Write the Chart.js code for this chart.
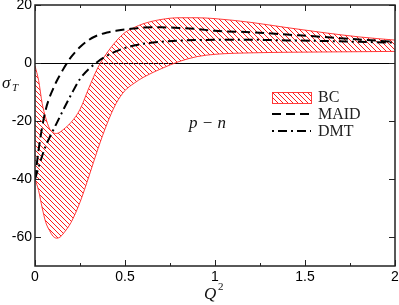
<!DOCTYPE html>
<html>
<head>
<meta charset="utf-8">
<script src="https://cdn.jsdelivr.net/npm/chart.js@4"></script>
<style>html,body{margin:0;padding:0;background:#fff}</style>
</head>
<body>
<canvas id="sigmaChart" width="399" height="305"></canvas>
<script>
// --- data --- //
const qSq = [0, 0.02, 0.04, 0.06, 0.08, 0.1, 0.12, 0.14, 0.16, 0.2, 0.25, 0.3, 0.35, 0.4, 0.45, 0.5, 0.55, 0.6, 0.7, 0.8, 0.9, 1.0, 1.2, 1.4, 1.6, 1.8, 2.0];
const bcUpper = [-1, -6, -14, -19, -22.5, -24, -24.3, -23.8, -22.8, -20.5, -16, -8.5, -1.5, 3.5, 7.5, 10.5, 12.2, 13.5, 15, 15.6, 15.6, 15.3, 14, 12.2, 10.5, 9, 7.9];
const bcLower = [-40, -44, -50, -55, -57.7, -59.7, -60.4, -60, -58.6, -55, -48, -39, -29.5, -21, -14, -9.5, -7, -5, -2, 0.5, 2.2, 3, 3.5, 3.7, 3.8, 3.9, 4];
const maid = [-40, -30, -22, -16, -12, -9, -6.3, -4, -1.8, 2, 5.5, 8, 9.6, 10.5, 11.1, 11.6, 11.9, 12.2, 12.3, 12.1, 11.7, 11.1, 10.6, 9.8, 9.0, 8.1, 7.3];
const dmt = [-40, -36, -32, -28.5, -25.8, -23.3, -20.8, -18.3, -15.8, -11, -5.5, -2, 0.5, 2.5, 4, 5.2, 6, 6.6, 7.3, 7.7, 7.9, 8, 8, 7.8, 7.6, 7.3, 7.0];

const xTicks = [0, 0.5, 1, 1.5, 2];
const xTickLabels = ['0', '0.5', '1', '1.5', '2'];
const xMinorTicks = [0.25, 0.75, 1.25, 1.75];
const yTicks = [-60, -40, -20, 0, 20];
const yTickLabels = ['-60', '-40', '-20', '0', '20'];
const legendLabels = ['BC', 'MAID', 'DMT'];

const SERIF = '"Liberation Serif", "DejaVu Serif", serif';
const SANS = '"Liberation Sans", Arial, sans-serif';

function toPoints(ys) {
    return qSq.map((x, i) => ({ x: x, y: ys[i] }));
}

// hatch "\\\\" pattern for the BC band
function makeHatch() {
    const c = document.createElement('canvas');
    c.width = 5; c.height = 5;
    const g = c.getContext('2d');
    g.strokeStyle = '#ff1a1a';
    g.lineWidth = 1;
    g.beginPath();
    g.moveTo(-1, -1); g.lineTo(6, 6);
    g.moveTo(-1, 4); g.lineTo(1, 6);
    g.moveTo(4, -1); g.lineTo(6, 1);
    g.stroke();
    return document.getElementById('sigmaChart').getContext('2d').createPattern(c, 'repeat');
}
const hatch = makeHatch();

// frame, inward ticks, labels and legend
const decorPlugin = {
    id: 'decor',
    afterDraw(chart) {
        const { ctx, chartArea: a, scales: { x, y } } = chart;
        ctx.save();
        ctx.strokeStyle = '#222';
        ctx.lineWidth = 1.5;
        ctx.strokeRect(a.left, a.top, a.right - a.left, a.bottom - a.top);

        ctx.lineWidth = 1;
        ctx.beginPath();
        xTicks.forEach(v => {
            const px = Math.round(x.getPixelForValue(v)) + 0.5;
            ctx.moveTo(px, a.bottom); ctx.lineTo(px, a.bottom - 6);
            ctx.moveTo(px, a.top); ctx.lineTo(px, a.top + 6);
        });
        xMinorTicks.forEach(v => {
            const px = Math.round(x.getPixelForValue(v)) + 0.5;
            ctx.moveTo(px, a.bottom); ctx.lineTo(px, a.bottom - 3);
            ctx.moveTo(px, a.top); ctx.lineTo(px, a.top + 3);
        });
        yTicks.forEach(v => {
            const py = Math.round(y.getPixelForValue(v)) + 0.5;
            ctx.moveTo(a.left, py); ctx.lineTo(a.left + 6, py);
            ctx.moveTo(a.right, py); ctx.lineTo(a.right - 6, py);
        });
        ctx.stroke();

        // axis titles
        ctx.fillStyle = '#111';
        ctx.textBaseline = 'alphabetic';
        ctx.textAlign = 'left';
        ctx.font = 'italic 17px ' + SERIF;
        ctx.fillText('σ', 2, 88);
        ctx.font = 'italic 11px ' + SERIF;
        ctx.fillText('T', 12, 91);

        ctx.font = 'italic 17px ' + SERIF;
        ctx.fillText('Q', 204, 299);
        ctx.font = '11px ' + SERIF;
        ctx.fillText('2', 218, 290);

        ctx.font = 'italic 17px ' + SERIF;
        ctx.fillText('p − n', 189, 128);

        // legend
        const lx = 272, lw = 39;
        ctx.fillStyle = hatch;
        ctx.fillRect(lx, 92, lw, 11);
        ctx.strokeStyle = 'rgba(255,40,40,0.9)';
        ctx.lineWidth = 1;
        ctx.strokeRect(lx + 0.5, 92.5, lw, 11);

        ctx.strokeStyle = '#000';
        ctx.lineWidth = 2;
        ctx.setLineDash([9, 5]);
        ctx.beginPath(); ctx.moveTo(lx, 114); ctx.lineTo(lx + lw, 114); ctx.stroke();
        ctx.setLineDash([2, 4, 9, 4]);
        ctx.beginPath(); ctx.moveTo(lx, 131); ctx.lineTo(lx + lw, 131); ctx.stroke();
        ctx.setLineDash([]);

        ctx.fillStyle = '#222';
        ctx.font = '16px ' + SERIF;
        ctx.textBaseline = 'middle';
        ctx.fillText(legendLabels[0], 318, 98);
        ctx.fillText(legendLabels[1], 318, 115);
        ctx.fillText(legendLabels[2], 318, 132);
        ctx.restore();
    }
};

new Chart(document.getElementById('sigmaChart'), {
    type: 'line',
    data: {
        datasets: [
            { label: 'BC upper', data: toPoints(bcUpper), borderColor: 'rgba(255,40,40,0.9)', borderWidth: 1, fill: false, order: 3 },
            { label: legendLabels[0], data: toPoints(bcLower), borderColor: 'rgba(255,40,40,0.9)', borderWidth: 1, backgroundColor: hatch, fill: '-1', order: 2 },
            { label: legendLabels[1], data: toPoints(maid), borderColor: '#000', borderWidth: 2, borderDash: [9, 5], fill: false, order: 0 },
            { label: legendLabels[2], data: toPoints(dmt), borderColor: '#000', borderWidth: 2, borderDash: [9, 4, 2, 4], fill: false, order: 1 }
        ]
    },
    options: {
        responsive: false,
        devicePixelRatio: 1,
        animation: false,
        elements: { point: { radius: 0 }, line: { cubicInterpolationMode: 'monotone' } },
        layout: { padding: { top: 5, right: 4, left: 0, bottom: 0 } },
        plugins: { legend: { display: false }, tooltip: { enabled: false } },
        scales: {
            x: {
                type: 'linear', min: 0, max: 2,
                grid: { display: false, drawTicks: false },
                border: { display: false },
                afterBuildTicks: s => { s.ticks = xTicks.map(v => ({ value: v })); },
                afterFit: s => { s.height = 39; s.paddingLeft = 0; s.paddingRight = 0; },
                ticks: {
                    autoSkip: false, maxRotation: 0, padding: 3, color: '#000',
                    font: { family: SANS, size: 14 },
                    callback: v => xTickLabels[xTicks.indexOf(v)]
                }
            },
            y: {
                type: 'linear', min: -70, max: 20,
                grid: {
                    drawTicks: false,
                    color: c => (c.tick && c.tick.value === 0) ? '#000' : 'rgba(0,0,0,0)',
                    lineWidth: 1
                },
                border: { display: false },
                afterBuildTicks: s => { s.ticks = yTicks.map(v => ({ value: v })); },
                afterFit: s => { s.width = 35; s.paddingTop = 0; s.paddingBottom = 0; },
                ticks: {
                    autoSkip: false, padding: 3, color: '#000',
                    font: { family: SANS, size: 14 },
                    callback: v => yTickLabels[yTicks.indexOf(v)]
                }
            }
        }
    },
    plugins: [decorPlugin]
});
</script>
</body>
</html>
